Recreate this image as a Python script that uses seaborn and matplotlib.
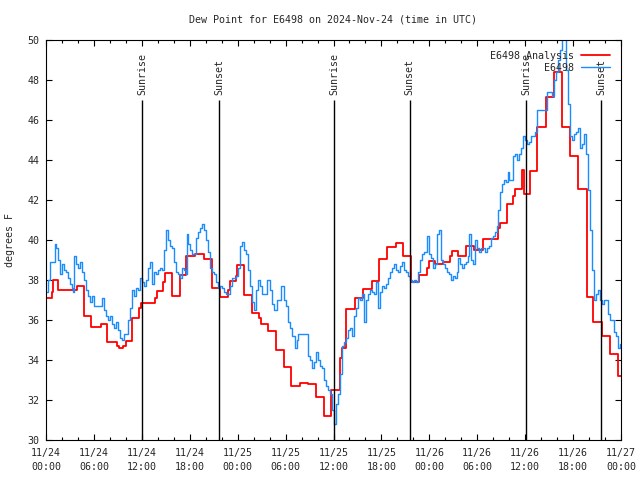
import matplotlib
matplotlib.use("Agg")
import matplotlib.pyplot as plt
from matplotlib.ticker import MultipleLocator
import numpy as np
import pandas as pd
import seaborn as sns

# ---------------- data (hours since 2024-11-24 00:00 UTC) ----------------
title = "Dew Point for E6498 on 2024-Nov-24 (time in UTC)"
ylabel = "degrees F"

red_hours = [0.0, 0.8, 0.9, 1.5, 3.9, 4.7, 5.6, 6.85, 7.6, 8.85, 9.1, 9.7, 10.0, 10.8, 11.6, 11.9,
             13.65, 13.86, 14.69, 14.9, 15.74, 16.78, 17.53, 18.66, 19.78, 20.79, 21.79, 22.75,
             23.04, 23.79, 23.95, 24.79, 25.76, 26.67, 26.92, 27.76, 28.8, 29.84, 30.68, 31.8,
             32.77, 33.77, 34.81, 35.69, 36.81, 37.1, 37.6, 38.69, 39.66, 40.78, 41.74, 42.66,
             43.83, 44.74, 45.71, 46.71, 47.75, 48.0, 48.71, 49.67, 50.59, 50.8, 51.63, 52.59,
             53.59, 54.76, 56.64, 56.85, 57.69, 58.52, 58.73, 59.57, 59.8, 60.6, 61.52, 62.61,
             63.61, 64.58, 65.62, 66.65, 67.7, 68.53, 69.62, 70.62, 71.66, 72.0]
red_values = [37.1, 37.4, 38.0, 37.5, 37.7, 36.2, 35.65, 35.8, 34.9, 34.7, 34.6, 34.7, 34.95, 36.1, 36.6, 36.85,
              37.1, 37.45, 37.9, 38.33, 37.2, 38.25, 39.2, 39.3, 39.07, 37.58, 37.13, 37.5,
              37.95, 38.2, 38.75, 37.25, 36.37, 36.08, 35.78, 35.47, 34.5, 33.63, 32.72, 32.83,
              32.78, 32.13, 31.2, 32.48, 34.1, 34.58, 36.53, 37.12, 37.53, 37.95, 39.03, 39.63,
              39.83, 39.2, 37.9, 38.25, 38.6, 38.97, 38.78, 38.88, 39.2, 39.45, 39.22, 39.72,
              39.5, 40.03, 40.6, 40.87, 41.78, 42.2, 42.55, 43.5, 42.28, 43.45, 45.63, 47.17,
              48.38, 45.63, 44.2, 42.53, 37.13, 35.92, 35.2, 34.3, 33.2, 33.2]

blue_obs = [
    (0.0, 37.4), (0.25, 38.0), (0.5, 38.9), (1.0, 38.9), (1.13, 39.8), (1.25, 39.6), (1.5, 39.0), (1.75, 38.3), (2.0, 38.8), (2.25, 38.5),
    (2.5, 38.4), (2.75, 38.1), (3.0, 37.8), (3.25, 37.6), (3.38, 37.4), (3.5, 39.2), (3.75, 38.8), (4.0, 38.6), (4.26, 38.9), (4.51, 38.4),
    (4.76, 38.0), (5.0, 37.5), (5.26, 37.2), (5.5, 36.9), (5.76, 37.2), (6.0, 36.7), (6.76, 36.7), (7.0, 37.1), (7.26, 36.5), (7.5, 36.2),
    (7.76, 36.0), (8.0, 36.2), (8.26, 35.8), (8.5, 35.6), (8.77, 35.9), (9.0, 35.5), (9.27, 35.1), (9.5, 35.0), (9.77, 35.3), (10.0, 35.3),
    (10.27, 36.0), (10.5, 36.6), (10.77, 37.5), (11.0, 37.2), (11.27, 37.6), (11.5, 37.5), (11.77, 38.1), (12.0, 37.9), (12.27, 37.7), (12.5, 38.0),
    (12.77, 38.6), (13.0, 38.9), (13.27, 37.8), (13.5, 38.4), (13.77, 38.3), (14.0, 38.5), (14.27, 38.6), (14.5, 38.5), (14.78, 39.5), (15.0, 40.5),
    (15.28, 40.0), (15.5, 39.7), (15.78, 39.6), (16.0, 38.9), (16.28, 38.4), (16.5, 38.3), (16.78, 38.1), (17.0, 38.6), (17.28, 38.5), (17.5, 38.3),
    (17.65, 40.3), (17.78, 39.8), (18.0, 39.5), (18.28, 39.3), (18.5, 39.3), (18.78, 40.1), (19.0, 40.4), (19.28, 40.6), (19.5, 40.8), (19.78, 40.5),
    (20.0, 40.0), (20.29, 39.4), (20.5, 38.6), (20.79, 38.4), (21.0, 38.3), (21.29, 37.9), (21.5, 37.6), (21.79, 37.7), (22.0, 37.6), (22.29, 37.4),
    (22.5, 37.3), (22.79, 37.3), (23.0, 37.7), (23.29, 38.1), (23.5, 38.1), (23.79, 38.2), (24.0, 38.6), (24.29, 39.7), (24.5, 39.9), (24.79, 39.5),
    (25.0, 39.3), (25.3, 38.5), (25.5, 37.7), (25.8, 36.9), (26.0, 36.5), (26.3, 37.5), (26.55, 38.0), (26.8, 37.7), (27.05, 37.3), (27.4, 37.3),
    (27.67, 38.0), (28.05, 37.5), (28.3, 36.8), (28.55, 36.5), (28.93, 37.0), (29.43, 37.7), (29.8, 37.0), (30.05, 36.7), (30.3, 35.9), (30.55, 35.6),
    (30.8, 35.2), (31.18, 34.6), (31.43, 35.0), (31.55, 35.3), (32.05, 35.3), (32.55, 35.3), (32.8, 34.2), (33.06, 34.0), (33.3, 33.6), (33.56, 33.9),
    (33.8, 34.4), (34.06, 34.0), (34.3, 33.7), (34.56, 33.6), (34.81, 33.0), (35.06, 32.7), (35.3, 32.5), (35.56, 32.3), (35.81, 31.5), (36.06, 30.8),
    (36.31, 31.8), (36.56, 32.3), (36.81, 33.3), (37.07, 34.7), (37.32, 34.9), (37.57, 35.1), (37.82, 35.5), (38.07, 35.6), (38.32, 35.2), (38.57, 36.2),
    (38.82, 36.6), (39.07, 37.1), (39.32, 37.0), (39.57, 37.3), (39.82, 35.9), (40.07, 37.0), (40.32, 37.3), (40.57, 37.5), (40.82, 37.4), (41.07, 37.3),
    (41.32, 37.9), (41.57, 36.6), (41.82, 37.4), (42.07, 37.7), (42.32, 37.6), (42.58, 37.8), (42.83, 38.1), (43.08, 38.4), (43.33, 38.6), (43.58, 38.8),
    (43.83, 38.5), (44.08, 38.4), (44.33, 38.7), (44.58, 38.9), (44.83, 38.5), (45.08, 38.4), (45.33, 38.2), (45.58, 38.0), (45.83, 37.9), (46.08, 38.0),
    (46.33, 37.9), (46.58, 38.4), (46.83, 39.0), (47.09, 39.3), (47.34, 39.4), (47.59, 39.4), (47.77, 40.2), (47.96, 39.3), (48.2, 39.1), (48.46, 38.6),
    (48.71, 38.8), (48.96, 40.3), (49.21, 40.5), (49.46, 39.0), (49.71, 38.8), (49.96, 38.6), (50.21, 38.4), (50.46, 38.3), (50.71, 38.0), (50.96, 38.2),
    (51.22, 38.1), (51.47, 38.4), (51.65, 39.1), (51.84, 38.8), (52.09, 38.6), (52.34, 38.8), (52.59, 38.9), (52.84, 39.2), (52.96, 40.3), (53.22, 39.0),
    (53.47, 38.8), (53.72, 40.0), (53.97, 39.6), (54.22, 39.4), (54.47, 39.6), (54.72, 39.6), (54.97, 39.4), (55.22, 39.6), (55.47, 39.7), (55.72, 40.1),
    (55.97, 40.2), (56.22, 40.4), (56.47, 40.7), (56.66, 41.5), (56.85, 42.4), (57.1, 42.8), (57.35, 43.0), (57.6, 42.9), (57.79, 43.4), (57.97, 43.0),
    (58.22, 43.0), (58.47, 44.2), (58.72, 44.3), (58.97, 44.0), (59.23, 44.3), (59.48, 44.6), (59.73, 45.2), (59.98, 45.0), (60.23, 44.8), (60.48, 44.9),
    (60.73, 45.2), (60.98, 45.2), (61.23, 45.4), (61.48, 46.5), (62.61, 46.5), (62.73, 47.4), (63.1, 47.4), (63.36, 47.2), (63.61, 48.0), (63.86, 48.4),
    (64.11, 49.0), (64.36, 49.5), (64.61, 50.5), (64.86, 50.3), (65.11, 48.5), (65.36, 46.8), (65.61, 45.2), (65.86, 45.0), (66.11, 45.3), (66.36, 45.4),
    (66.61, 45.6), (66.86, 44.6), (67.11, 44.8), (67.36, 45.3), (67.61, 44.3), (67.86, 42.5), (68.11, 40.5), (68.37, 38.5), (68.62, 37.0), (68.87, 37.3),
    (69.12, 37.5), (69.37, 37.0), (69.62, 36.8), (69.87, 37.0), (70.12, 37.0), (70.37, 36.3), (70.62, 36.0), (70.87, 36.0), (71.12, 35.4), (71.37, 35.2),
    (71.62, 34.6), (71.87, 34.8),
]
blue_hours = [h for h, v in blue_obs]
blue_values = [v for h, v in blue_obs]

sun_hours = [12.05, 21.7, 36.1, 45.55, 60.15, 69.5]
sun_labels = ["Sunrise", "Sunset", "Sunrise", "Sunset", "Sunrise", "Sunset"]

xtick_hours = [0, 6, 12, 18, 24, 30, 36, 42, 48, 54, 60, 66, 72]
xtick_labels = ["11/24\n00:00", "11/24\n06:00", "11/24\n12:00", "11/24\n18:00",
                "11/25\n00:00", "11/25\n06:00", "11/25\n12:00", "11/25\n18:00",
                "11/26\n00:00", "11/26\n06:00", "11/26\n12:00", "11/26\n18:00",
                "11/27\n00:00"]
ytick_values = [30, 32, 34, 36, 38, 40, 42, 44, 46, 48, 50]

# ---------------- plot ----------------
sns.set_style("ticks")
plt.rcParams["font.family"] = ["DejaVu Sans Mono"]
FS = 7.2

fig = plt.figure(figsize=(6.4, 4.8), dpi=100)
ax = fig.add_axes([46 / 640, 40 / 480, 575 / 640, 400 / 480])

red_df = pd.DataFrame({"hour": red_hours, "value": red_values})
blue_df = pd.DataFrame({"hour": blue_hours, "value": blue_values})

sns.lineplot(data=red_df, x="hour", y="value", ax=ax, color="#ff0000", lw=1.3,
             drawstyle="steps-post", estimator=None, sort=False, label="E6498 Analysis")
sns.lineplot(data=blue_df, x="hour", y="value", ax=ax, color="#1a8cff", lw=1.0,
             drawstyle="steps-post", estimator=None, sort=False, label="E6498")

ax.vlines(sun_hours, 30, 47, color="black", lw=1.0, zorder=3)
for h, lab in zip(sun_hours, sun_labels):
    ax.text(h, 47.25, lab, rotation=90, ha="center", va="bottom", fontsize=FS)

ax.set_xlim(0, 72)
ax.set_ylim(30, 50)
ax.set_xticks(xtick_hours)
ax.set_xticklabels(xtick_labels, linespacing=1.45)
ax.set_yticks(ytick_values)
ax.xaxis.set_minor_locator(MultipleLocator(2))
ax.set_xlabel("")
ax.set_ylabel("")
ax.tick_params(which="both", direction="in", top=True, right=True, labelsize=FS,
               color="black", width=0.8)
ax.tick_params(which="major", length=4.0)
ax.tick_params(which="minor", length=2.5)
ax.tick_params(axis="x", pad=6)
ax.tick_params(axis="y", pad=4.5)
for s in ax.spines.values():
    s.set_visible(True)
    s.set_linewidth(0.8)
    s.set_color("black")

leg = ax.legend(loc="upper right", frameon=False, markerfirst=False, fontsize=FS,
                handlelength=2.9, handletextpad=0.7, labelspacing=0.2,
                borderaxespad=0.9, borderpad=0.2)

fig.text(333 / 640, 1 - 20 / 480, title, ha="center", va="center", fontsize=FS)
fig.text(10 / 640, 240 / 480, ylabel, ha="center", va="center", rotation=90, fontsize=FS)

fig.savefig("out.png", dpi=100)
